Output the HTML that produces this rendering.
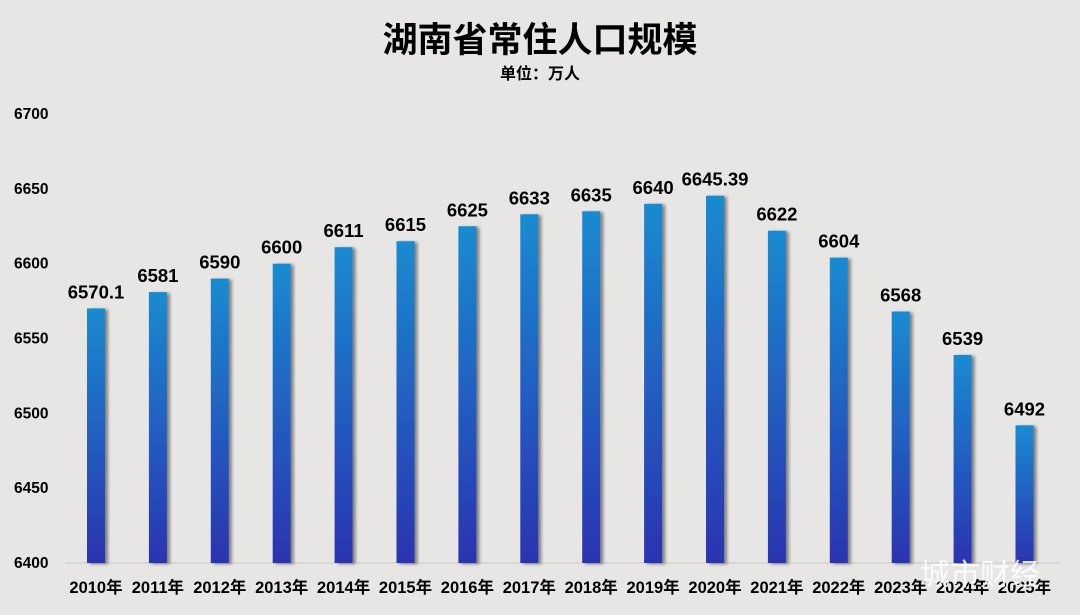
<!DOCTYPE html>
<html><head><meta charset="utf-8"><style>
body{margin:0;background:#e7e6e5;}
svg{display:block;font-family:"Liberation Sans","Noto Sans CJK SC",sans-serif;}
</style></head><body>
<svg width="1080" height="615" viewBox="0 0 1080 615">
<defs>
<linearGradient id="g" x1="0" y1="0" x2="0" y2="1"><stop offset="0" stop-color="#198bd0"/><stop offset="1" stop-color="#2b33b1"/></linearGradient>
<filter id="sh" x="-50%" y="-5%" width="200%" height="110%"><feGaussianBlur in="SourceAlpha" stdDeviation="1.5"/><feOffset dx="3" dy="1"/><feComponentTransfer><feFuncA type="linear" slope="0.45"/></feComponentTransfer><feMerge><feMergeNode/><feMergeNode in="SourceGraphic"/></feMerge></filter>
</defs>
<rect width="1080" height="615" fill="#e7e6e5"/>
<text x="540" y="52" text-anchor="middle" font-size="35" font-weight="bold" fill="#000">湖南省常住人口规模</text>
<text x="540" y="79" text-anchor="middle" font-size="16" font-weight="bold" fill="#000">单位：万人</text>
<line x1="65" y1="563" x2="1060" y2="563" stroke="#d2d2d6" stroke-width="1.5"/>
<g id="yt"></g>
<g id="bars"></g>
<text x="920" y="585" font-size="30" fill="#fff" opacity="0.85">城市财经</text>
</svg>
<script>
const categories=["2010年","2011年","2012年","2013年","2014年","2015年","2016年","2017年","2018年","2019年","2020年","2021年","2022年","2023年","2024年","2025年"];
const values=[6570.1,6581,6590,6600,6611,6615,6625,6633,6635,6640,6645.39,6622,6604,6568,6539,6492];
const valueLabels=["6570.1","6581","6590","6600","6611","6615","6625","6633","6635","6640","6645.39","6622","6604","6568","6539","6492"];
const yTicks=[6400,6450,6500,6550,6600,6650,6700];
const NS="http://www.w3.org/2000/svg";
const yMin=6400,yMax=6700,y0=563,y1=114;
function y(v){return y0-(v-yMin)/(yMax-yMin)*(y0-y1);}
function x(i){return 96+i*61.9;}
const yt=document.getElementById('yt');
yTicks.forEach(t=>{const e=document.createElementNS(NS,'text');


e.setAttribute('x',14);e.setAttribute('y',y(t)+5);e.setAttribute('font-size','15.5');e.setAttribute('font-weight','bold');e.textContent=t;yt.appendChild(e);});
const bg=document.getElementById('bars');
values.forEach((v,i)=>{
const r=document.createElementNS(NS,'rect');


r.setAttribute('x',x(i)-9);r.setAttribute('y',y(v));r.setAttribute('width',18);r.setAttribute('height',y0-y(v));r.setAttribute('fill','url(#g)');r.setAttribute('filter','url(#sh)');bg.appendChild(r);
const l=document.createElementNS(NS,'text');


l.setAttribute('x',x(i));l.setAttribute('y',y(v)-10);l.setAttribute('text-anchor','middle');l.setAttribute('font-size','18.5');l.setAttribute('font-weight','bold');l.textContent=valueLabels[i];bg.appendChild(l);
const c=document.createElementNS(NS,'text');


c.setAttribute('x',x(i));c.setAttribute('y',593);c.setAttribute('text-anchor','middle');c.setAttribute('font-size','16.5');c.setAttribute('font-weight','bold');c.textContent=categories[i];bg.appendChild(c);
});
</script>
</body></html>
